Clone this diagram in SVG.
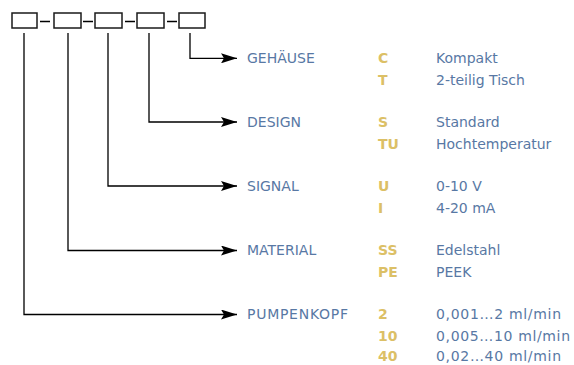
<svg xmlns="http://www.w3.org/2000/svg" width="574" height="365" viewBox="0 0 574 365">
<defs>
<style>
.box{fill:#fff;stroke:#1a1a1a;stroke-width:1.5}
.ln{fill:none;stroke:#000;stroke-width:1.3}
.lab{font-family:"DejaVu Sans",sans-serif;font-size:14px;fill:#5878a4}
.code{font-family:"DejaVu Sans",sans-serif;font-size:14px;font-weight:bold;fill:#dcc066}
</style>
<marker id="ah" viewBox="0 0 16 10" refX="16" refY="5" markerWidth="16" markerHeight="10" markerUnits="userSpaceOnUse" orient="auto">
<path d="M0,0 L16,5 L0,10 L3,5 Z" fill="#000"/>
</marker>
</defs>
<g id="code-boxes">
<rect class="box" x="12" y="13" width="25" height="15"/>
<rect class="box" x="54" y="13" width="27" height="15"/>
<rect class="box" x="95" y="13" width="27" height="15"/>
<rect class="box" x="137" y="13" width="27" height="15"/>
<rect class="box" x="179" y="13" width="26" height="15"/>
<path class="ln" d="M40,21.5H50M83,21.5H93M125,21.5H135M167,21.5H177"/>
</g>
<g id="connectors">
<path class="ln" d="M190,33V58.3H237" marker-end="url(#ah)"/>
<path class="ln" d="M149,33V122H237" marker-end="url(#ah)"/>
<path class="ln" d="M108,33V186H237" marker-end="url(#ah)"/>
<path class="ln" d="M68,33V250.5H237" marker-end="url(#ah)"/>
<path class="ln" d="M24,33V314.5H237" marker-end="url(#ah)"/>
</g>
<g id="gehaeuse">
<text class="lab" x="247" y="63">GEHÄUSE</text>
<text class="code" x="378" y="63">C</text><text class="lab" x="436" y="63">Kompakt</text>
<text class="code" x="378" y="85">T</text><text class="lab" x="436" y="85">2-teilig Tisch</text>
</g>
<g id="design">
<text class="lab" x="247" y="127">DESIGN</text>
<text class="code" x="378" y="127">S</text><text class="lab" x="436" y="127">Standard</text>
<text class="code" x="378" y="149">TU</text><text class="lab" x="436" y="149">Hochtemperatur</text>
</g>
<g id="signal">
<text class="lab" x="247" y="191">SIGNAL</text>
<text class="code" x="378" y="191">U</text><text class="lab" x="436" y="191">0-10 V</text>
<text class="code" x="378" y="213">I</text><text class="lab" x="436" y="213">4-20 mA</text>
</g>
<g id="material">
<text class="lab" x="247" y="255">MATERIAL</text>
<text class="code" x="378" y="255">SS</text><text class="lab" x="436" y="255">Edelstahl</text>
<text class="code" x="378" y="277">PE</text><text class="lab" x="436" y="277">PEEK</text>
</g>
<g id="pumpenkopf">
<text class="lab" x="247" y="319" textLength="101" lengthAdjust="spacing">PUMPENKOPF</text>
<text class="code" x="378" y="319">2</text><text class="lab" x="436" y="319" textLength="125" lengthAdjust="spacing">0,001…2 ml/min</text>
<text class="code" x="378" y="341">10</text><text class="lab" x="436" y="341" textLength="134" lengthAdjust="spacing">0,005…10 ml/min</text>
<text class="code" x="378" y="361">40</text><text class="lab" x="436" y="361" textLength="125" lengthAdjust="spacing">0,02…40 ml/min</text>
</g>
</svg>
